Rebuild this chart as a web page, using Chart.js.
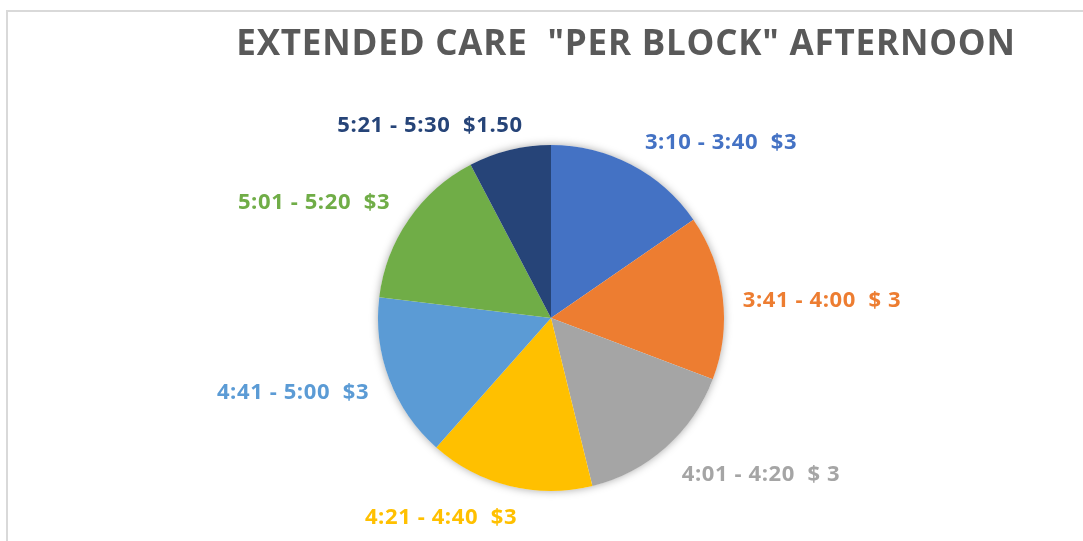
<!DOCTYPE html>
<html>
<head>
<meta charset="utf-8">
<script src="https://cdn.jsdelivr.net/npm/chart.js@4"></script>
<style>
  html, body { margin: 0; padding: 0; background: #fff; }
  #wrap { width: 1083px; height: 541px; position: relative; }
</style>
</head>
<body>
<div id="wrap"><canvas id="chart"></canvas></div>
<script>
// data
const labels = ['3:10 - 3:40  $3', '3:41 - 4:00  $ 3', '4:01 - 4:20  $ 3', '4:21 - 4:40  $3', '4:41 - 5:00  $3', '5:01 - 5:20  $3', '5:21 - 5:30  $1.50'];
const prices = [3, 3, 3, 3, 3, 3, 1.5];
const colors = ['#4472C4', '#ED7D31', '#A5A5A5', '#FFC000', '#5B9BD5', '#70AD47', '#264478'];
const title = 'EXTENDED CARE  "PER BLOCK" AFTERNOON';

// where each label sits, relative to the pie centre (px)
const labelOffsets = [[170, -177], [271, -19], [210, 155], [-110, 198], [-258, 73], [-237, -117], [-121, -194]];

// frame + title + shadow under the pie + labels
const decor = {
    id: 'decor',
    beforeDraw(chart) {
        const ctx = chart.ctx;
        ctx.save();
        ctx.strokeStyle = '#d9d9d9';
        ctx.lineWidth = 2;
        ctx.beginPath();
        ctx.moveTo(7, chart.height);
        ctx.lineTo(7, 11);
        ctx.lineTo(chart.width, 11);
        ctx.stroke();

        ctx.fillStyle = '#595959';
        ctx.font = 'bold 35px "Open Sans"';
        ctx.letterSpacing = '0.8px';
        ctx.textAlign = 'center';
        ctx.textBaseline = 'alphabetic';
        ctx.fillText(title, 626, 55);
        ctx.restore();
    },
    beforeDatasetsDraw(chart) {
        const arc = chart.getDatasetMeta(0).data[0];
        if (!arc) return;
        const ctx = chart.ctx;
        ctx.save();
        ctx.shadowColor = 'rgba(0,0,0,0.35)';
        ctx.shadowBlur = 8;
        ctx.fillStyle = '#fff';
        ctx.beginPath();
        ctx.arc(arc.x, arc.y, arc.outerRadius, 0, Math.PI * 2);
        ctx.fill();
        ctx.restore();
    },
    afterDatasetsDraw(chart) {
        const meta = chart.getDatasetMeta(0);
        const ctx = chart.ctx;
        ctx.save();
        ctx.font = 'bold 22px "Open Sans"';
        ctx.letterSpacing = '0.6px';
        ctx.textAlign = 'center';
        ctx.textBaseline = 'alphabetic';
        meta.data.forEach((arc, i) => {
            ctx.fillStyle = colors[i];
            ctx.fillText(labels[i], arc.x + labelOffsets[i][0], arc.y + labelOffsets[i][1] + 7.5);
        });
        ctx.restore();
    }
};

new Chart(document.getElementById('chart'), {
    type: 'pie',
    data: {
        labels: labels,
        datasets: [{
            data: prices,
            backgroundColor: colors,
            borderWidth: 0,
            hoverOffset: 0,
            offset: 0
        }]
    },
    options: {
        responsive: true,
        maintainAspectRatio: false,
        animation: false,
        layout: { padding: { top: 145, bottom: 50, left: 378, right: 359 } },
        plugins: {
            legend: { display: false },
            tooltip: { enabled: false },
            title: { display: false }
        }
    },
    plugins: [decor]
});
</script>
</body>
</html>
